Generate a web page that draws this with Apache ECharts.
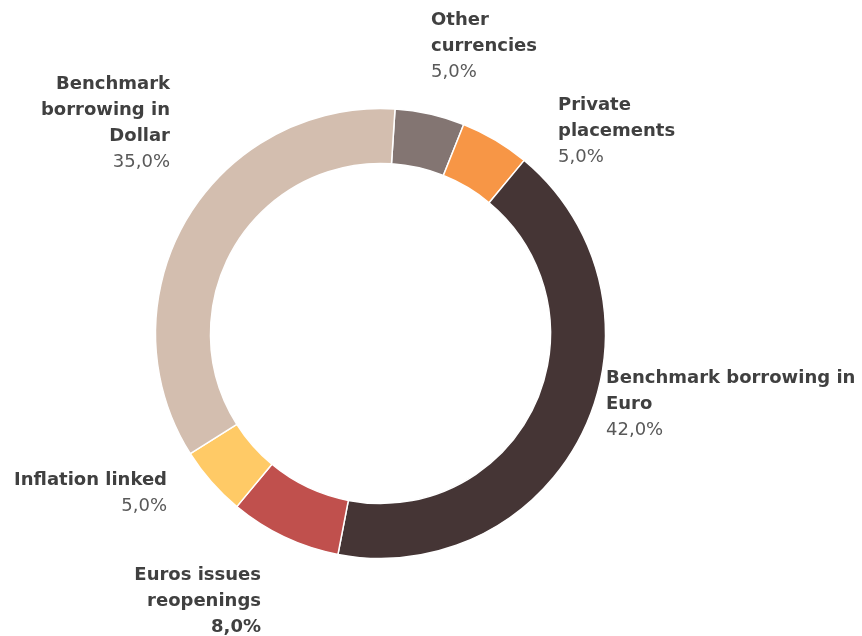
<!DOCTYPE html>
<html>
<head>
<meta charset="utf-8">
<script src="https://cdn.jsdelivr.net/npm/echarts@6/dist/echarts.min.js"></script>
<style>
  html, body { margin: 0; padding: 0; background: #ffffff; }
  #chart { width: 862px; height: 636px; }
</style>
</head>
<body>
<div id="chart"></div>
<script>
// Funding programme breakdown (share of total, %)
const categories = [
  'Other currencies',
  'Private placements',
  'Benchmark borrowing in Euro',
  'Euros issues reopenings',
  'Inflation linked',
  'Benchmark borrowing in Dollar'
];
const shares = [5.0, 5.0, 42.0, 8.0, 5.0, 35.0];

// Label text as it is wrapped on the page
const labelLines = [
  ['Other', 'currencies'],
  ['Private', 'placements'],
  ['Benchmark borrowing in', 'Euro'],
  ['Euros issues', 'reopenings'],
  ['Inflation linked'],
  ['Benchmark', 'borrowing in', 'Dollar']
];
// Slices whose value is printed in bold
const boldValue = [false, false, false, true, false, false];

const colors = ['#837572', '#F79646', '#453535', '#C0504D', '#FFCA66', '#D3BEAF'];

// Label anchor placement: [x, top, align]
const labelAnchors = [
  [431, 7, 'left'],
  [558, 92, 'left'],
  [606, 365, 'left'],
  [261, 562, 'right'],
  [167, 467, 'right'],
  [170, 71, 'right']
];

const fmtPct = v => v.toFixed(1).replace('.', ',') + '%';

const chart = echarts.init(document.getElementById('chart'), null, { renderer: 'canvas' });

const FONT = '"DejaVu Sans", sans-serif';

chart.setOption({
  backgroundColor: '#ffffff',
  animation: false,
  series: [{
    type: 'pie',
    center: [380.5, 333.5],
    radius: [170, 225],
    startAngle: 86.3,
    clockwise: true,
    avoidLabelOverlap: false,
    itemStyle: { borderColor: '#ffffff', borderWidth: 1.5 },
    label: {
      show: true,
      position: 'outside',
      formatter: p => {
        const i = p.dataIndex;
        const name = labelLines[i].map(s => '{b|' + s + '}').join('\n');
        const val = (boldValue[i] ? '{vb|' : '{v|') + fmtPct(shares[i]) + '}';
        return name + '\n' + val;
      },
      rich: {
        b: { fontFamily: FONT, fontWeight: 'bold', fontSize: 18, color: '#404040', lineHeight: 26 },
        v: { fontFamily: FONT, fontWeight: 'normal', fontSize: 18, color: '#595959', lineHeight: 26 },
        vb: { fontFamily: FONT, fontWeight: 'bold', fontSize: 18, color: '#404040', lineHeight: 26 }
      }
    },
    labelLine: { show: false },
    labelLayout: params => {
      const a = labelAnchors[params.dataIndex];
      return { x: a[0], y: a[1], align: a[2], verticalAlign: 'top', hideOverlap: false };
    },
    data: categories.map((c, i) => ({
      name: c,
      value: shares[i],
      itemStyle: { color: colors[i] },
      label: { align: labelAnchors[i][2] }
    }))
  }]
});
</script>
</body>
</html>
